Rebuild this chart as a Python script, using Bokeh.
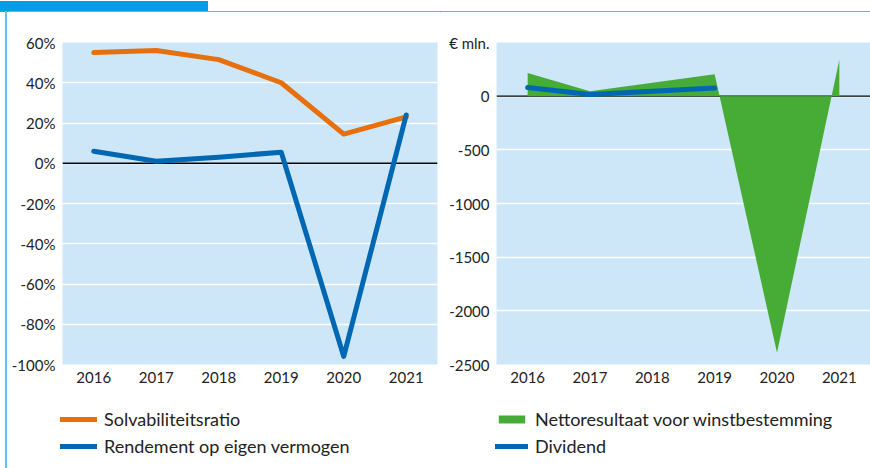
from bokeh.plotting import figure
from bokeh.models import Range1d, FixedTicker, Span, Legend, LegendItem, Div
from bokeh.layouts import row, column
from bokeh.embed import file_html
from bokeh.resources import INLINE

# ---- data ----
years = ["2016", "2017", "2018", "2019", "2020", "2021"]
solvabiliteit = [55, 56, 51.5, 40, 14.5, 23]
rendement = [6, 1, 3, 5.5, -96, 24]
netto = [215, 45, 125, 205, -2390, 340]
dividend_years = ["2016", "2017", "2018", "2019"]
dividend = [80, 15, 45, 75]

left_ticks = [-100, -80, -60, -40, -20, 0, 20, 40, 60]
left_labels = ["-100%", "-80%", "-60%", "-40%", "-20%", "0%", "20%", "40%", "60%"]
right_ticks = [-2500, -2000, -1500, -1000, -500, 0, 500]
right_labels = ["-2500", "-2000", "-1500", "-1000", "-500", "0", "€ mln."]

# ---- style ----
FONT = "Lato"
TXT = "#222222"
BG = "#CDE7F9"
ORANGE = "#E8700C"
BLUE = "#0068B3"
GREEN = "#46AC35"
HEADER = "#00A0E2"
RULE = "#12A8EA"
SIDE = "#5CC4F0"

idx = list(range(len(years)))
div_idx = [years.index(y) for y in dividend_years]
NAN = float("nan")


def style(p, yticks, ylabels):
    p.background_fill_color = BG
    p.border_fill_color = "white"
    p.outline_line_color = None
    p.xgrid.grid_line_color = None
    p.ygrid.grid_line_color = "white"
    p.ygrid.grid_line_width = 1.5
    p.ygrid.ticker = FixedTicker(ticks=yticks)
    for ax in (p.xaxis[0], p.yaxis[0]):
        ax.axis_line_color = None
        ax.major_tick_line_color = None
        ax.minor_tick_line_color = None
        ax.major_tick_out = 0
        ax.major_tick_in = 0
        ax.major_label_text_font = FONT
        ax.major_label_text_font_size = "15px"
        ax.major_label_text_color = TXT
        ax.major_label_standoff = 7
    p.yaxis[0].ticker = FixedTicker(ticks=yticks)
    p.yaxis[0].major_label_overrides = dict(zip(yticks, ylabels))
    p.xaxis[0].ticker = FixedTicker(ticks=idx)
    p.xaxis[0].major_label_overrides = dict(zip(idx, years))
    p.add_layout(Span(location=0, dimension="width", line_color="black",
                      line_width=1.3, level="underlay"))


# ---- left chart ----
p1 = figure(width=432, height=381, title=None, toolbar_location=None,
            output_backend="svg", x_range=Range1d(-0.5, 5.5),
            y_range=Range1d(-100, 60),
            min_border_left=54, min_border_right=3,
            min_border_top=31, min_border_bottom=28)
style(p1, left_ticks, left_labels)
p1.line(idx, solvabiliteit, line_color=ORANGE, line_width=5,
        line_join="round", line_cap="round")
p1.line(idx, rendement, line_color=BLUE, line_width=5,
        line_join="round", line_cap="round")

# ---- right chart ----
p2 = figure(width=430, height=381, title=None, toolbar_location=None,
            output_backend="svg", x_range=Range1d(-0.5, 5.5),
            y_range=Range1d(-2500, 500),
            min_border_left=56, min_border_right=0,
            min_border_top=31, min_border_bottom=28)
style(p2, right_ticks, right_labels)
p2.varea(x=idx, y1=0, y2=netto, fill_color=GREEN)
p2.line(div_idx, dividend, line_color=BLUE, line_width=5,
        line_join="round", line_cap="round")

# ---- legend strip (legend handles only; they draw nothing in the plot) ----
lg = figure(width=862, height=76, title=None, toolbar_location=None,
            output_backend="svg", x_range=Range1d(0, 1), y_range=Range1d(0, 1),
            x_axis_type=None, y_axis_type=None,
            min_border_left=0, min_border_right=0,
            min_border_top=0, min_border_bottom=0)
lg.outline_line_color = None
lg.background_fill_color = "white"
lg.border_fill_color = "white"
lg.grid.grid_line_color = None
s_solv = lg.line([NAN], [NAN], line_color=ORANGE, line_width=5, line_cap="round")
s_rend = lg.line([NAN], [NAN], line_color=BLUE, line_width=5, line_cap="round")
s_net = lg.varea(x=[NAN], y1=[NAN], y2=[NAN], fill_color=GREEN)
s_div = lg.line([NAN], [NAN], line_color=BLUE, line_width=5, line_cap="round")


def legend(items, x, glyph_width, glyph_height):
    return Legend(items=items, location=(x, 11), orientation="vertical",
                  background_fill_alpha=0, border_line_color=None,
                  padding=0, margin=0, spacing=5,
                  glyph_width=glyph_width, glyph_height=glyph_height,
                  label_height=22, label_standoff=7, label_text_font=FONT,
                  label_text_font_size="18px", label_text_color=TXT)


lg.add_layout(legend([LegendItem(label="Solvabiliteitsratio", renderers=[s_solv]),
                      LegendItem(label="Rendement op eigen vermogen", renderers=[s_rend])],
                     52, 37, 22))
lg.add_layout(legend([LegendItem(label="Nettoresultaat voor winstbestemming", renderers=[s_net]),
                      LegendItem(label="Dividend", renderers=[s_div])],
                     487, 33, 10))

# ---- frame decoration (header tab, top rule, left rule) ----
top = Div(width=870, height=11, margin=0,
          text=(f'<div style="width:208px;height:10px;background:{HEADER}"></div>'
                f'<div style="width:870px;height:1px;background:{RULE}"></div>'))
side = Div(width=8, height=457, margin=0,
           text=f'<div style="margin-left:5px;width:2px;height:457px;background:{SIDE}"></div>')

layout = column(top, row(side, column(row(p1, p2), lg)))
open("out.html", "w").write(file_html(layout, INLINE))
